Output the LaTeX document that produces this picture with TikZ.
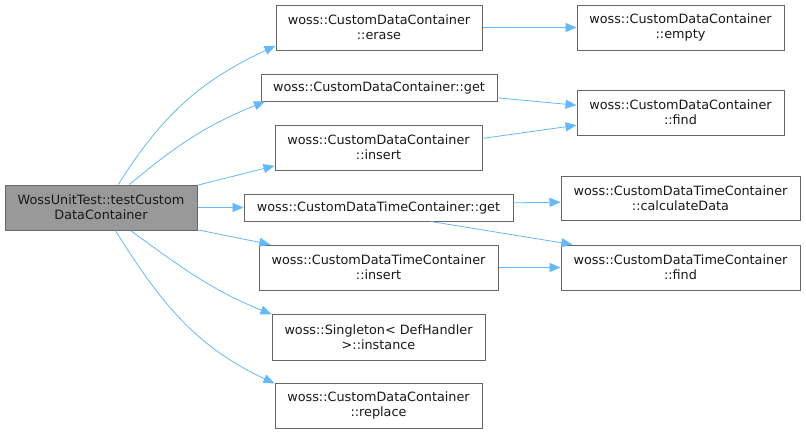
\documentclass[tikz,border=0pt]{standalone}
\usepackage{fontspec}
\setmainfont{DejaVu Sans}
\usetikzlibrary{arrows.meta,positioning}
\definecolor{edgeBlue}{RGB}{99,184,255}
\definecolor{boxGray}{RGB}{102,102,102}
\definecolor{rootGray}{RGB}{153,153,153}

\begin{document}
\begin{tikzpicture}[
            x=1pt, y=-1pt,
            fn/.style={rectangle, draw=boxGray, line width=1pt, fill=white, inner sep=0pt, align=center, font=\fontsize{12.8}{15}\selectfont, text=black!90, minimum height=45pt},
            arrow/.style={-{Triangle[length=11pt,width=9pt,fill=edgeBlue]}, draw=edgeBlue, line width=0.8pt}
        ]
            \useasboundingbox (0,0) rectangle (806,434);
            % caller
            \node[fn, fill=rootGray, minimum width=192pt] (root) at (101,207.5) {WossUnitTest::testCustom\\DataContainer};
            % direct callees
            \node[fn, minimum width=206pt] (erase) at (379,27.5) {woss::CustomDataContainer\\::erase};
            \node[fn, minimum width=236pt, minimum height=27pt] (cdcGet) at (379,87.5) {woss::CustomDataContainer::get};
            \node[fn, minimum width=207pt] (cdcInsert) at (378.5,147.5) {woss::CustomDataContainer\\::insert};
            \node[fn, minimum width=269pt, minimum height=27pt] (cdtcGet) at (378.5,207.5) {woss::CustomDataTimeContainer::get};
            \node[fn, minimum width=239pt] (cdtcInsert) at (378.5,267.5) {woss::CustomDataTimeContainer\\::insert};
            \node[fn, minimum width=213pt, minimum height=46pt] (instance) at (378.5,337) {woss::Singleton< DefHandler\\>::instance};
            \node[fn, minimum width=207pt] (replace) at (378.5,405.5) {woss::CustomDataContainer\\::replace};
            % second level
            \node[fn, minimum width=207pt] (empty) at (680.5,27.5) {woss::CustomDataContainer\\::empty};
            \node[fn, minimum width=207pt] (cdcFind) at (680.5,112.5) {woss::CustomDataContainer\\::find};
            \node[fn, minimum width=239pt, minimum height=44pt] (calcData) at (680.5,198) {woss::CustomDataTimeContainer\\::calculateData};
            \node[fn, minimum width=239pt] (cdtcFind) at (680.5,267.5) {woss::CustomDataTimeContainer\\::find};

            \draw[arrow] (root.53) to[out=58, in=205] (erase.190);
            \draw[arrow] (root.39) to[out=40, in=202] (cdcGet.187);
            \draw[arrow] (root.13) -- (cdcInsert.190);
            \draw[arrow] (root.east) -- (cdtcGet.west);
            \draw[arrow] (root.347) -- (cdtcInsert.168);
            \draw[arrow] (root.322) to[out=-36, in=158] (instance.168);
            \draw[arrow] (root.302) to[out=-58, in=155] (replace.168);
            \draw[arrow] (erase.east) -- (empty.west);
            \draw[arrow] (cdcGet.355) -- (cdcFind.176);
            \draw[arrow] (cdcInsert.5) -- (cdcFind.187);
            \draw[arrow] (cdtcGet.2) -- (calcData.182);
            \draw[arrow] (cdtcGet.345) -- (cdtcFind.168);
            \draw[arrow] (cdtcInsert.east) -- (cdtcFind.west);
        \end{tikzpicture}
\end{document}
